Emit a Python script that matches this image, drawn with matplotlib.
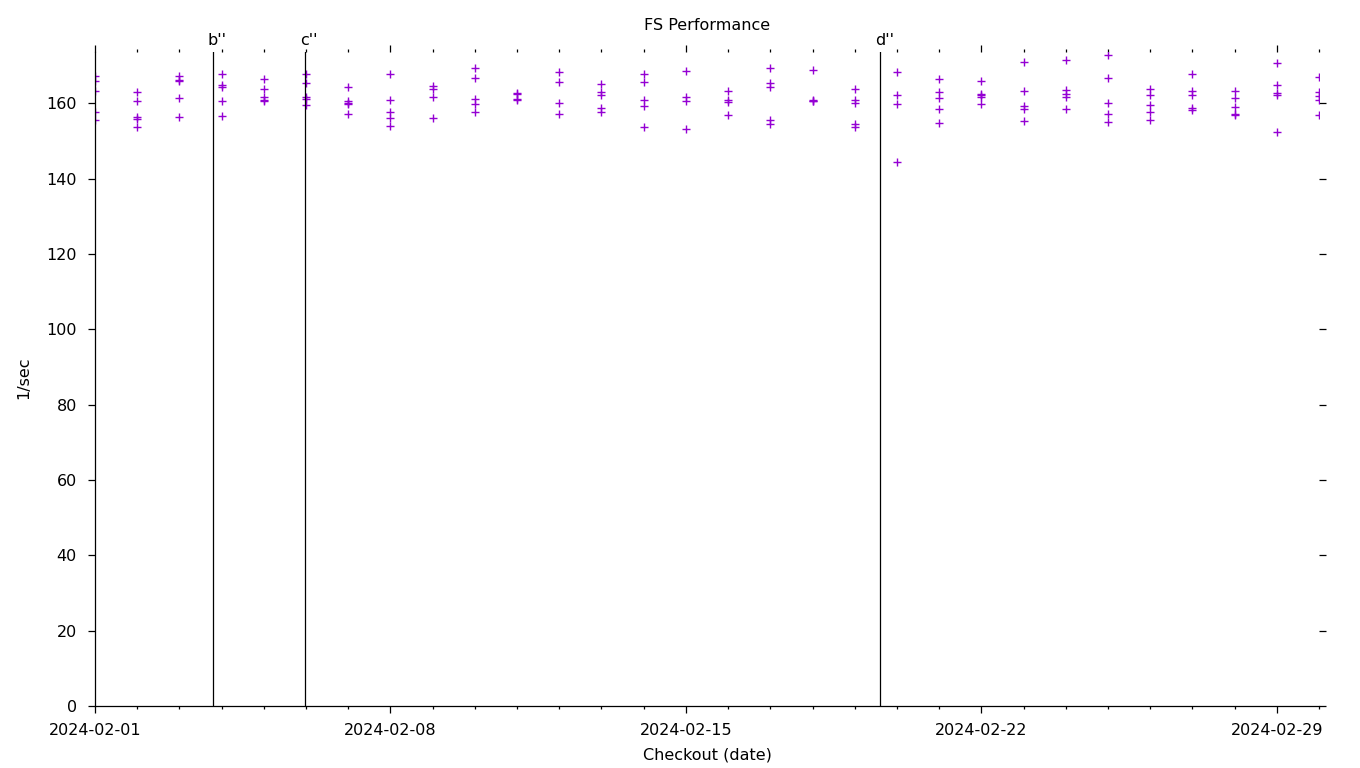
import pandas as pd
import matplotlib
matplotlib.use("Agg")
import matplotlib.pyplot as plt
import matplotlib.dates as mdates

# checkout dates, one group of runs per day
checkout_dates = pd.date_range("2024-02-01", "2024-03-01", freq="D")

# measured rate (1/sec) of the runs for every checkout date
rates = [
    [167.2, 165.9, 163.2, 157.6, 155.5],
    [162.9, 160.5, 156.3, 155.8, 153.6],
    [167.3, 166.3, 165.8, 161.3, 156.3],
    [167.7, 164.9, 164.2, 160.5, 156.5],
    [166.4, 163.7, 161.6, 160.9, 160.6],
    [167.7, 165.3, 161.6, 161.1, 159.5],
    [164.2, 160.7, 160.2, 159.9, 157.1],
    [167.7, 161.0, 157.8, 156.2, 153.9],
    [164.6, 163.9, 161.6, 156.2],
    [169.5, 166.6, 161.1, 159.9, 157.6],
    [162.8, 162.4, 161.1, 160.8],
    [168.2, 165.6, 160.2, 157.1],
    [165.1, 163.1, 162.3, 158.7, 157.6],
    [167.7, 165.6, 160.9, 159.4, 153.6],
    [168.5, 161.7, 160.6, 153.1],
    [163.2, 160.9, 160.3, 156.9],
    [169.4, 165.5, 164.2, 155.6, 154.5],
    [168.8, 161.0, 160.7, 160.5],
    [163.9, 160.8, 160.0, 154.5, 153.8],
    [168.2, 162.1, 159.9, 144.3],
    [166.4, 163.1, 161.3, 158.4, 154.9],
    [165.9, 162.6, 162.1, 161.6, 159.7],
    [171.0, 163.2, 159.4, 158.4, 155.2],
    [171.6, 163.6, 162.4, 161.8, 158.5],
    [172.7, 166.6, 160.0, 157.2, 155.1],
    [163.9, 162.2, 159.5, 157.6, 155.6],
    [167.7, 163.2, 162.2, 158.8, 158.2],
    [163.2, 161.3, 159.1, 157.2, 156.8],
    [170.6, 164.9, 162.8, 162.2, 152.3],
    [166.9, 163.1, 162.0, 160.8, 156.8],
]

# release markers
release_labels = ["b''", "c''", "d''"]
release_dates = pd.to_datetime(["2024-02-03 19:10", "2024-02-05 23:20", "2024-02-19 14:25"])

y_ticks = [0, 20, 40, 60, 80, 100, 120, 140, 160]
x_major = pd.to_datetime(["2024-02-01", "2024-02-08", "2024-02-15", "2024-02-22", "2024-02-29"])

xs = []
ys = []
for d, vals in zip(checkout_dates, rates):
    for v in vals:
        xs.append(d)
        ys.append(v)

plt.rcParams['font.family'] = ['DejaVu Sans']
plt.rcParams['font.size'] = 11.5

fig = plt.figure(figsize=(13.6, 7.68), dpi=100)
ax = fig.add_axes([95 / 1360, 1 - 706 / 768, (1319 - 95) / 1360, (706 - 51.7) / 768])

ax.plot(xs, ys, linestyle='none', marker='+', color='#9400d3', markersize=5.6, markeredgewidth=1.0)

for d, lab in zip(release_dates, release_labels):
    xnum = mdates.date2num(d)
    ax.axvline(xnum, color='black', linewidth=0.9)
    ax.annotate(lab, xy=(xnum, 1.0), xycoords=ax.get_xaxis_transform(),
                xytext=(3, 3), textcoords='offset points', ha='center', va='bottom')

ax.set_xlim(checkout_dates[0], checkout_dates[-1])
ax.set_ylim(0, 173.7)
ax.set_yticks(y_ticks)
ax.set_xticks(x_major)
ax.xaxis.set_major_formatter(mdates.DateFormatter("%Y-%m-%d"))
ax.xaxis.set_minor_locator(mdates.DayLocator())

for side in ['top', 'right']:
    ax.spines[side].set_visible(False)
for side in ['left', 'bottom']:
    ax.spines[side].set_linewidth(0.9)

ax.tick_params(which='both', direction='out', top=True, right=True, width=0.9)
ax.tick_params(which='major', length=5)
ax.tick_params(which='minor', length=2.5)
ax.tick_params(axis='x', pad=7)
ax.tick_params(axis='y', pad=8)

fig.text(707 / 1360, 1 - 25 / 768, "FS Performance", ha='center', va='center')
fig.text(707 / 1360, 1 - 755 / 768, "Checkout (date)", ha='center', va='center')
fig.text(24 / 1360, 1 - 378 / 768, "1/sec", ha='center', va='center', rotation=90)

fig.savefig("out.png", dpi=100)
plt.close(fig)
